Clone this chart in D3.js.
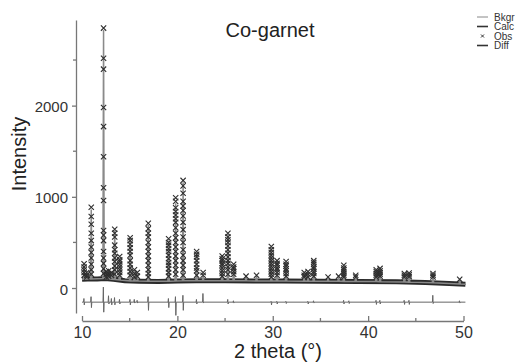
<!DOCTYPE html>
<html><head><meta charset="utf-8">
<script src="https://cdn.jsdelivr.net/npm/d3@7"></script>
<style>
body{margin:0;background:#fff}
svg{display:block}
text{font-family:"Liberation Sans",Arial,sans-serif}
</style>
</head><body>
<svg id="chart" width="522" height="363"></svg>
<script>
// ---------------- data ----------------
const chartTitle = "Co-garnet";
const xLabel = "2 theta (°)";
const yLabel = "Intensity";
const xTicks = [10, 20, 30, 40, 50];
const xMinorTicks = [15, 25, 35, 45];
const yTicks = [0, 1000, 2000];
const yMinorTicks = [500, 1500, 2500];
const legendLabels = ["Bkgr", "Calc", "Obs", "Diff"];

// background knots (2theta, intensity)
const bkgTheta = [10.0, 10.6, 11.6, 12.4, 13.3, 14.5, 16, 18, 20, 22, 25, 28, 31, 35, 39, 43, 46, 48.5, 50.2];
const bkgI     = [95, 100, 100, 105, 95, 80, 75, 72, 78, 80, 80, 78, 76, 74, 72, 68, 60, 50, 40];

// reflections: position, calculated peak intensity
const peakTheta = [10.22, 10.5, 10.97, 12.26, 12.55, 12.8, 13.1, 13.43, 13.95, 15.05, 15.5, 15.8, 16.95, 19.08, 19.82, 20.6,
                   22.02, 22.7, 24.7, 25.3, 25.9, 27.2, 28.3, 29.85, 30.45, 31.4, 33.3, 33.7, 34.3, 35.8, 36.9, 37.45,
                   38.7, 40.85, 41.25, 43.8, 44.3, 46.8, 49.6];
const peakCalc  = [250, 160, 860, 2830, 170, 180, 160, 630, 330, 530, 190, 160, 690, 520, 930, 1160,
                   390, 130, 340, 590, 250, 130, 140, 440, 290, 280, 170, 180, 290, 120, 130, 245,
                   140, 200, 210, 160, 165, 150, 95];
// observed points along each reflection
const obsLadders = [
  [265, 230, 200, 170, 140],
  [170, 140, 120],
  [885, 785, 700, 600, 520, 450, 390, 330, 260, 200, 150],
  [2850, 2520, 2400, 1980, 1770, 1440, 1100, 960, 630, 580, 520, 400, 330, 270, 210, 160],
  [180, 150, 120],
  [190, 160, 130],
  [170, 140],
  [645, 600, 560, 470, 420, 380, 330, 290, 240, 200, 150],
  [345, 310, 290, 260, 230, 200, 170, 140],
  [550, 520, 480, 440, 400, 360, 300, 260, 220, 180, 140],
  [200, 160, 120],
  [170, 130],
  [710, 650, 600, 560, 500, 450, 400, 350, 300, 250, 200, 160, 120],
  [540, 500, 470, 430, 400, 360, 320, 280, 250, 210, 170, 130],
  [990, 950, 880, 840, 800, 760, 720, 660, 600, 550, 500, 450, 400, 350, 300, 250, 200, 150],
  [1180, 1120, 1040, 950, 900, 850, 790, 720, 640, 560, 500, 420, 360, 300, 250, 200, 140],
  [400, 370, 340, 300, 260, 220, 190, 140],
  [170, 140],
  [350, 320, 300, 270, 250, 220, 190, 160, 130],
  [600, 560, 530, 500, 460, 420, 380, 340, 300, 270, 230, 200, 150],
  [260, 230, 210, 180, 150],
  [130],
  [140],
  [455, 420, 390, 360, 330, 300, 270, 240, 210, 180, 150, 120],
  [300, 270, 250, 220, 200, 170, 140],
  [290, 260, 240, 210, 190, 160, 130],
  [170, 140, 120],
  [180, 150, 120],
  [300, 280, 260, 230, 210, 180, 160, 130],
  [120],
  [130],
  [250, 220, 200, 180, 160, 140, 120],
  [140, 120],
  [200, 180, 160, 140, 120],
  [215, 190, 170, 150, 130],
  [160, 140, 120],
  [165, 145, 125],
  [160, 140, 120],
  [95]
];

// difference curve: offset and spikes (up / down excursions)
const diffOffset = -155;
const diffTheta = [10.22, 10.97, 12.26, 12.8, 13.1, 13.43, 13.95, 15.05, 15.5, 15.8, 16.95, 19.08, 19.82, 20.6, 22.02, 22.7,
                   25.3, 25.9, 29.85, 30.45, 31.4, 33.7, 34.3, 37.45, 38.0, 40.85, 41.25, 43.8, 44.3, 46.8, 49.6];
const diffUp    = [40, 60, 165, 70, 40, 50, 30, 30, 30, 20, 60, 40, 60, 75, 30, 95,
                   30, 15, 10, 10, 10, 10, 15, 20, 15, 20, 20, 20, 20, 75, 15];
const diffDown  = [-30, -60, -110, -20, -30, -30, -20, -30, -10, -10, -90, -60, -145, -90, -20, -10,
                   -20, -10, -30, -20, -15, -20, -10, -20, -15, -25, -20, -25, -25, -15, -10];

// ---------------- drawing ----------------
const svg = d3.select("#chart");
const x = d3.scaleLinear().domain([10, 50]).range([82, 463.5]);
const y = d3.scaleLinear().domain([-274, 2939]).range([313, 20]);
const bkg = d3.scaleLinear().domain(bkgTheta).range(bkgI);   // background as piecewise-linear scale
const xMin = bkgTheta[0], xMax = bkgTheta[bkgTheta.length - 1];

const line = d3.line().x(d => x(d[0])).y(d => y(d[1]));

// background line
svg.append("path").attr("d", line(bkgTheta.map((t, i) => [t, bkgI[i]])))
  .attr("fill", "none").attr("stroke", "#888").attr("stroke-width", 1);

// dense observed points along the baseline (overlapping crosses form a band)
svg.append("path").attr("d", line(bkgTheta.map((t, i) => [t, bkgI[i]])))
  .attr("fill", "none").attr("stroke", "#2b2b2b").attr("stroke-width", 5).attr("stroke-linejoin", "round");

// calculated profile
const hw = 0.07;
const calcPts = [[xMin, bkg(xMin)]];
peakTheta.forEach((t, i) => {
  calcPts.push([t - hw, bkg(t - hw)], [t, peakCalc[i]], [t + hw, bkg(t + hw)]);
});
calcPts.push([xMax, bkg(xMax)]);
calcPts.sort((a, b) => a[0] - b[0]);
svg.append("path").attr("d", line(calcPts))
  .attr("fill", "none").attr("stroke", "#8a8a8a").attr("stroke-width", 1.5);

// observed crosses
const crossType = { draw(ctx, size) { const r = Math.sqrt(size) / 2;
  ctx.moveTo(-r, -r); ctx.lineTo(r, r); ctx.moveTo(r, -r); ctx.lineTo(-r, r); } };
const obs = peakTheta.flatMap((t, i) => obsLadders[i].map(v => ({ t, v })));
svg.append("g").selectAll("path").data(obs).join("path")
  .attr("transform", d => `translate(${x(d.t)},${y(d.v)})`)
  .attr("d", d3.symbol(crossType, 28)())
  .attr("fill", "none").attr("stroke", "#2e2e2e").attr("stroke-width", 1.1);

// difference curve
const diffPts = [[xMin, 0]];
diffTheta.forEach((t, i) => {
  diffPts.push([t - 0.06, 0], [t - 0.02, diffUp[i]], [t + 0.02, diffDown[i]], [t + 0.06, 0]);
});
diffPts.push([xMax, 0]);
diffPts.sort((a, b) => a[0] - b[0]);
svg.append("path").attr("d", line(diffPts.map(p => [p[0], p[1] + diffOffset])))
  .attr("fill", "none").attr("stroke", "#666").attr("stroke-width", 1);

// axes
const axisColor = "#777";
const xAxisY = 321;
const gx = svg.append("g").attr("transform", `translate(0,${xAxisY})`)
  .call(d3.axisBottom(x).tickValues(xTicks).tickFormat(d3.format("d")).tickSizeInner(-5).tickSizeOuter(0).tickPadding(6));
gx.append("g").selectAll("line").data(xMinorTicks).join("line")
  .attr("x1", d => x(d)).attr("x2", d => x(d)).attr("y1", 0).attr("y2", -3);
const yAxisX = 76;
const gy = svg.append("g").attr("transform", `translate(${yAxisX},0)`)
  .call(d3.axisLeft(y).tickValues(yTicks).tickFormat(d3.format("d")).tickSizeInner(4).tickSizeOuter(0).tickPadding(4));
gy.append("g").selectAll("line").data(yMinorTicks).join("line")
  .attr("y1", d => y(d)).attr("y2", d => y(d)).attr("x1", 0).attr("x2", -3);
[gx, gy].forEach(g => {
  g.selectAll("path, line").attr("stroke", axisColor).attr("stroke-width", 1.3);
  g.selectAll("text").attr("fill", "#333").attr("font-family", "Liberation Sans, Arial, sans-serif");
});
gx.selectAll("text").attr("font-size", 16);
gy.selectAll("text").attr("font-size", 15).attr("dy", "0.4em");

// titles
svg.append("text").attr("x", 270).attr("y", 37).attr("text-anchor", "middle")
  .attr("font-size", 20).attr("fill", "#222").text(chartTitle);
svg.append("text").attr("x", 278).attr("y", 358).attr("text-anchor", "middle")
  .attr("font-size", 20).attr("fill", "#222").text(xLabel);
svg.append("text").attr("transform", "translate(26,154) rotate(-90)").attr("text-anchor", "middle")
  .attr("font-size", 20).attr("fill", "#222").text(yLabel);

// legend
const lg = svg.append("g");
const rowY = i => 17 + i * 9.5;
legendLabels.forEach((lab, i) => {
  if (lab === "Obs") {
    lg.append("path").attr("transform", `translate(482.5,${rowY(i)})`)
      .attr("d", d3.symbol(crossType, 9)()).attr("stroke", "#333").attr("fill", "none");
  } else {
    lg.append("line").attr("x1", 477).attr("x2", 488).attr("y1", rowY(i)).attr("y2", rowY(i))
      .attr("stroke", lab === "Bkgr" ? "#888" : "#333").attr("stroke-width", lab === "Bkgr" ? 1 : 1.6);
  }
  lg.append("text").attr("x", 494).attr("y", rowY(i) + 3.5).attr("font-size", 10).attr("fill", "#333").text(lab);
});
</script>
</body></html>
